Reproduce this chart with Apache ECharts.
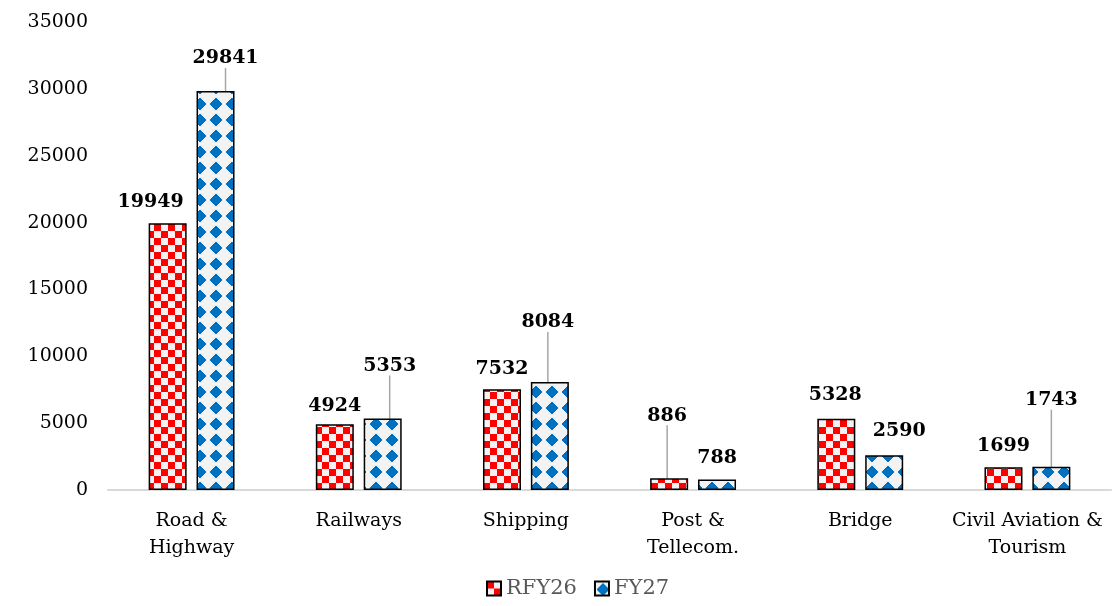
<!DOCTYPE html>
<html>
<head>
<meta charset="utf-8">
<script src="https://cdn.jsdelivr.net/npm/echarts@6/dist/echarts.min.js"></script>
<style>
html,body{margin:0;padding:0;background:#fff;}
#chart{width:1112px;height:606px;}
</style>
</head>
<body>
<div id="chart"></div>
<script>
var categories = ['Road &\nHighway', 'Railways', 'Shipping', 'Post &\nTellecom.', 'Bridge', 'Civil Aviation &\nTourism'];
var seriesNames = ['RFY26', 'FY27'];
var rfy26 = [19949, 4924, 7532, 886, 5328, 1699];
var fy27 = [29841, 5353, 8084, 788, 2590, 1743];
var yTicks = [0, 5000, 10000, 15000, 20000, 25000, 30000, 35000];

// label shifts (style only): [dx, dy, showLeaderLine]
var shiftRFY26 = [[-17, -7, 0], [0, -4, 0], [0, -6, 0], [-2, -48, 1], [-1, -9, 0], [0, -7, 0]];
var shiftFY27 = [[10, -18, 1], [7, -38, 1], [-2, -45, 1], [0, -7, 0], [15, -10, 0], [0, -52, 1]];

function checkerPattern() {
  var c = document.createElement('canvas');
  var s = 7;
  c.width = s * 2; c.height = s * 2;
  var g = c.getContext('2d');
  g.fillStyle = '#f2f2f2';
  g.fillRect(0, 0, 2 * s, 2 * s);
  g.fillStyle = '#ff0000';
  g.fillRect(0, 0, s, s);
  g.fillRect(s, s, s, s);
  return c;
}
function diamondPattern() {
  var c = document.createElement('canvas');
  var s = 16;
  c.width = s; c.height = s;
  var g = c.getContext('2d');
  g.fillStyle = '#f2f2f2';
  g.fillRect(0, 0, s, s);
  g.fillStyle = '#0070c0';
  var rows = [[7, 2], [6, 4], [5, 6], [4, 8], [3, 10], [2, 12], [2, 12], [3, 10], [4, 8], [5, 6], [6, 4], [7, 2]];
  for (var i = 0; i < rows.length; i++) {
    g.fillRect(rows[i][0], 2 + i, rows[i][1], 1);
  }
  return c;
}

var redFill = { image: checkerPattern(), repeat: 'repeat' };
var blueFill = { image: diamondPattern(), repeat: 'repeat' };

function makeData(vals, shifts) {
  return vals.map(function (v, i) {
    return { value: v, labelLine: { show: !!shifts[i][2] } };
  });
}

var labelFont = { show: true, position: 'top', distance: 5, fontFamily: 'DejaVu Serif', fontWeight: 'bold', fontSize: 19, color: '#000' };
var leader = { show: false, lineStyle: { color: '#a6a6a6', width: 1.5 } };

var chart = echarts.init(document.getElementById('chart'));
chart.setOption({
  animation: false,
  backgroundColor: '#fff',
  grid: { left: 108, right: 1, top: 22, bottom: 116, containLabel: false },
  legend: {
    bottom: 2,
    left: 481,
    itemWidth: 14,
    itemHeight: 14,
    itemGap: 17,
    textStyle: { fontFamily: 'DejaVu Serif', fontSize: 21, color: '#595959' },
    data: seriesNames.map(function (n) { return { name: n, icon: 'rect' }; })
  },
  xAxis: {
    type: 'category',
    data: categories,
    axisLine: { lineStyle: { color: '#d9d9d9', width: 2 } },
    axisTick: { show: false },
    axisLabel: { interval: 0, fontFamily: 'DejaVu Serif', fontSize: 19, color: '#000', lineHeight: 27, margin: 18 }
  },
  yAxis: {
    type: 'value',
    min: yTicks[0],
    max: yTicks[yTicks.length - 1],
    interval: yTicks[1] - yTicks[0],
    splitLine: { show: false },
    axisLine: { show: false },
    axisTick: { show: false },
    axisLabel: { fontFamily: 'DejaVu Serif', fontSize: 19, color: '#000', margin: 20, formatter: function (v) { return String(v); } }
  },
  series: [
    {
      name: seriesNames[0],
      type: 'bar',
      barWidth: 38,
      barGap: '26%',
      data: makeData(rfy26, shiftRFY26),
      itemStyle: { color: redFill, borderColor: '#000', borderWidth: 1.5 },
      label: labelFont,
      labelLine: leader,
      labelLayout: function (p) { var s = shiftRFY26[p.dataIndex]; return { dx: s[0], dy: s[1] }; }
    },
    {
      name: seriesNames[1],
      type: 'bar',
      barWidth: 38,
      barGap: '26%',
      data: makeData(fy27, shiftFY27),
      itemStyle: { color: blueFill, borderColor: '#000', borderWidth: 1.5 },
      label: labelFont,
      labelLine: leader,
      labelLayout: function (p) { var s = shiftFY27[p.dataIndex]; return { dx: s[0], dy: s[1] }; }
    }
  ]
});
</script>
</body>
</html>
